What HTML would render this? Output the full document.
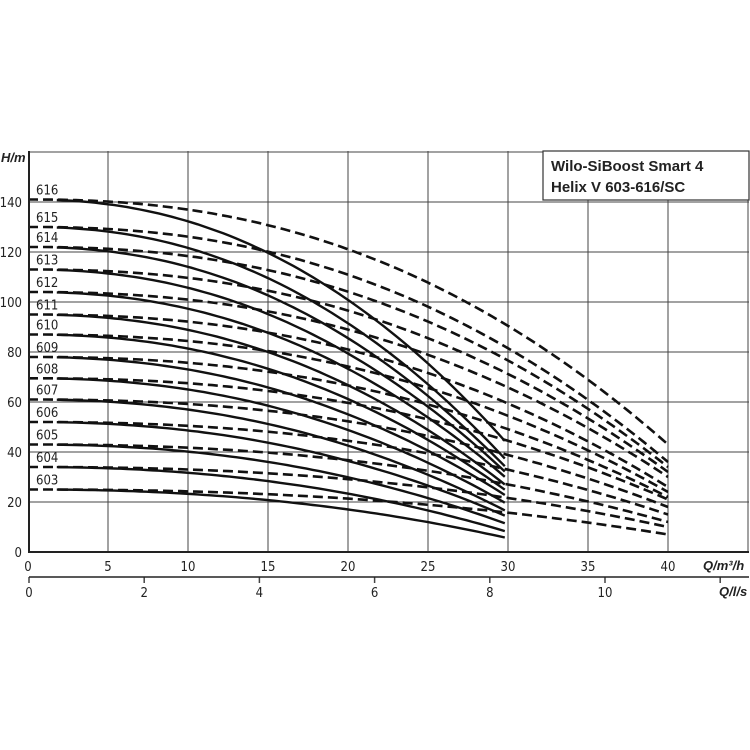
<!DOCTYPE html>
<html><head><meta charset="utf-8"><style>
html,body{margin:0;padding:0;background:#fff;}
svg{display:block;font-family:"DejaVu Sans Condensed","Liberation Sans Narrow","Liberation Sans",sans-serif;}
</style></head><body>
<svg id="s" width="750" height="750" viewBox="0 0 750 750" xmlns="http://www.w3.org/2000/svg">
<rect width="750" height="750" fill="#fff"/>
<g id="grid" stroke="#444" stroke-width="1"></g>
<g id="curves" fill="none" stroke="#111"></g>
<rect x="543" y="151" width="206" height="49" fill="#fff" stroke="#333" stroke-width="1.2"/>
<text x="551" y="171" font-size="15" font-weight="bold" fill="#222" font-family="Liberation Sans, sans-serif">Wilo-SiBoost Smart 4</text>
<text x="551" y="192" font-size="15" font-weight="bold" fill="#222" font-family="Liberation Sans, sans-serif">Helix V 603-616/SC</text>
<line x1="29" y1="151" x2="29" y2="553" stroke="#222" stroke-width="2"/>
<line x1="29" y1="552" x2="749" y2="552" stroke="#222" stroke-width="2"/>
<line x1="29" y1="577" x2="749" y2="577" stroke="#222" stroke-width="1.5"/>
<g id="lab" font-size="13" fill="#222"></g>
<text x="1" y="162" font-size="13" font-weight="bold" font-style="italic" fill="#222" font-family="Liberation Sans, sans-serif">H/m</text>
<text x="703" y="570" font-size="13" font-weight="bold" font-style="italic" fill="#222" font-family="Liberation Sans, sans-serif">Q/m³/h</text>
<text x="719" y="596" font-size="13" font-weight="bold" font-style="italic" fill="#222" font-family="Liberation Sans, sans-serif">Q/l/s</text>
</svg>
<script>
var NS="http://www.w3.org/2000/svg";
function el(p,n,a,t){var e=document.createElementNS(NS,n);for(var k in a)e.setAttribute(k,a[k]);if(t!==undefined)e.textContent=t;document.getElementById(p).appendChild(e);return e;}
function X(q){return 28+16*q;}function Y(h){return 552-2.5*h;}
for(var i=1;i<=9;i++){var x=28+80*i;el("grid","line",{x1:x,y1:151,x2:x,y2:552});}
for(var h=20;h<=160;h+=20){el("grid","line",{x1:29,y1:Y(h),x2:749,y2:Y(h)});}
for(var h=0;h<=140;h+=20){el("lab","text",{x:22,y:Y(h)+5,"text-anchor":"end"},""+h);}
for(var q=0;q<=40;q+=5){el("lab","text",{x:X(q),y:571,"text-anchor":"middle"},""+q);}
for(var l=0;l<=12;l+=2){var x=29+57.6*l;el("grid","line",{x1:x,y1:577,x2:x,y2:583,"stroke-width":1.5});if(l<=10)el("lab","text",{x:x,y:597,"text-anchor":"middle"},""+l);}
var H0=[25,34,43,52,61,69.5,78,87,95,104,113,122,130,141];
var D40=[7,10,12,15,18,21,22,24,26,30,32,34,36,43];
var S30=[5.5,8,11,14,16,19,22,24,26,29,31,33,36,43];
for(var i=0;i<14;i++){
  var d="",s="";
  for(var q=0;q<=40.001;q+=0.5){var h=H0[i]-(H0[i]-D40[i])*Math.pow(q/40,2.3);d+=(q==0?"M":"L")+X(q).toFixed(1)+","+Y(h).toFixed(1);}
  el("curves","path",{d:d,"stroke-width":2.6,"stroke-dasharray":"10,5"});
  var first=true;
  for(var q=1.8;q<=30.001;q+=0.4){var h=H0[i]-(H0[i]-S30[i])*Math.pow(q/30,2.2);s+=(first?"M":"L")+X(q).toFixed(1)+","+Y(h).toFixed(1);first=false;}
  el("curves","path",{d:s,"stroke-width":2.4});
  el("lab","text",{x:36,y:Y(H0[i])-5},""+(603+i));
}
</script>
</body></html>
